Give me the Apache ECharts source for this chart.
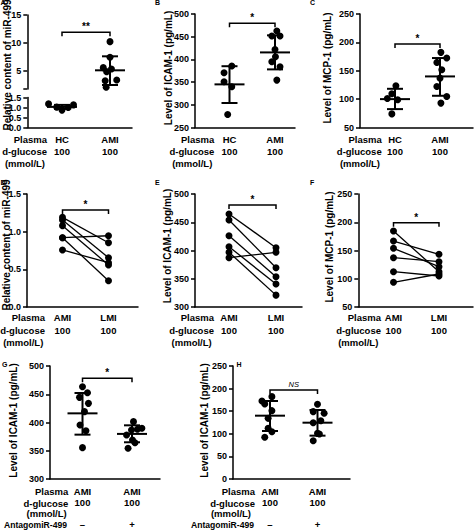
<!DOCTYPE html>
<html><head><meta charset="utf-8">
<script src="https://cdn.jsdelivr.net/npm/echarts@6/dist/echarts.min.js"></script>
<style>html,body{margin:0;padding:0;background:#fff}#c{width:474px;height:531px}</style>
</head><body><div id="c"></div>
<script>
// ---------------- DATA ----------------
// Panel A: relative content of miR-499 (HC vs AMI)
const catA = ['HC', 'AMI'];
const aHC = [1.18, 1.13, 1.02, 1.0, 0.87];
const aHCjit = [-0.28, 0.24, -0.11, 0.13, 0];
const aAMI = [10.24, 7.44, 5.6, 5.36, 4.88, 3.39, 3.27, 2.08];
const aAMIjit = [0, 0, -0.14, 0.03, -0.07, 0.14, -0.1, -0.08];
const aMean = [1.03, 5.12], aLo = [0.93, 2.5], aHi = [1.13, 7.62];
// Panel B: ICAM-1 (HC vs AMI)
const catB = ['HC', 'AMI'];
const bHC = [385.3, 370.6, 350.7, 339.7, 278.7];
const bHCjit = [0.05, -0.12, -0.12, 0.05, -0.04];
const bAMI = [462.5, 451.5, 451.5, 422, 406, 395, 384, 354.4];
const bAMIjit = [0.04, -0.07, 0.11, 0, 0.01, -0.07, 0.11, 0.04];
const bMean = [345, 415.4], bLo = [304, 378], bHi = [385, 453];
// Panel C: MCP-1 (HC vs AMI)
const catC = ['HC', 'AMI'];
const cHC = [123.5, 109.4, 101, 99, 74];
const cHCjit = [0.02, -0.07, -0.17, 0.06, -0.07];
const cAMI = [182.4, 172.4, 164.7, 151.8, 137, 122.4, 104.7, 93];
const cAMIjit = [0.02, 0.15, -0.07, 0.04, 0, -0.07, 0.15, 0.02];
const cMean = [100, 140], cLo = [82.4, 105.9], cHi = [118.2, 172.4];
// Panel D-F: paired AMI vs LMI
const catD = ['AMI', 'LMI'];
const dAMI = [1.19, 1.155, 1.08, 0.92, 0.92, 0.757];
const dLMI = [0.853, 0.654, 0.558, 0.946, 0.349, 0.588];
const eAMI = [464.6, 454, 426.2, 406.7, 396.8, 387.3];
const eLMI = [405, 369.6, 353.6, 340.7, 321, 396.8];
const fAMI = [184.5, 166.8, 153.9, 137.3, 112.5, 93.7];
const fLMI = [112.5, 143.3, 121.3, 130.2, 104.9, 108.4];
// Panel G-H: AMI without / with AntagomiR-499
const catG = ['AMI', 'AMI'];
const antago = ['\u2013', '+'];
const gCtl = [463.4, 452.8, 444.5, 433.9, 419.2, 395.6, 385.5, 355.5];
const gCtljit = [0, 0.1, -0.06, 0.12, 0.04, -0.05, 0.07, 0];
const gAnt = [401.5, 389.7, 388, 386.7, 377.9, 369, 364.3, 354.3];
const gAntjit = [0.03, 0.2, 0.11, -0.01, -0.11, 0.01, 0.06, -0.08];
const gMean = [416.2, 379.8], gLo = [378.5, 365], gHi = [452.2, 395];
const hCtl = [182.2, 172.6, 165.9, 151.2, 134.2, 112.1, 104.7, 92.2];
const hCtljit = [0.04, -0.17, -0.11, 0.04, -0.04, -0.04, 0.04, -0.11];
const hAnt = [165.2, 149, 145.3, 129, 124.6, 101, 99.6, 84.8];
const hAntjit = [0, -0.09, 0.14, 0.07, -0.09, 0, 0.04, -0.09];
const hMean = [140.1, 124.6], hLo = [106.2, 95.9], hHi = [172.6, 152.7];
const glucose = '100';
const rowNames = ['Plasma', 'd-glucose', '(mmol/L)', 'AntagomiR-499'];
// ---------------- BUILD ----------------
const FF = '"Liberation Sans", Arial, Helvetica, sans-serif';
const opt = {animation: false, backgroundColor: '#fff', grid: [], xAxis: [], yAxis: [], series: [], graphic: []};

function addGrid(x0, x1, yTop, yBot, c1, c2, xLab, y) {
  const s = c2 - c1;
  const gi = opt.grid.length;
  opt.grid.push({left: x0, top: yTop, width: x1 - x0, height: yBot - yTop, containLabel: false, outerBoundsMode: 'none'});
  opt.xAxis.push({
    type: 'value', gridIndex: gi, min: 1 - (c1 - x0) / s, max: 2 + (x1 - c2) / s,
    show: !!xLab, splitLine: {show: false}, axisTick: {show: false},
    axisLine: {show: true, onZero: false, lineStyle: {color: '#000', width: 1.5}},
    axisLabel: xLab ? {show: true, customValues: [1, 2], formatter: xLab.fmt, color: '#000', fontFamily: FF,
      fontSize: 9.5, fontWeight: 'bold', lineHeight: xLab.lh, margin: xLab.margin, align: 'center'} : {show: false}
  });
  const lab = {color: '#000', fontFamily: FF, fontSize: 9, fontWeight: 'bold', margin: 6};
  if (y.labFmt) lab.formatter = y.labFmt;
  if (y.labVals) lab.customValues = y.labVals;
  const tick = {show: true, length: 4, lineStyle: {color: '#000', width: 1.5}};
  if (y.tickVals) tick.customValues = y.tickVals;
  const ya = {type: 'value', gridIndex: gi, min: y.min, max: y.max, splitLine: {show: false},
    axisLine: {show: true, onZero: false, lineStyle: {color: '#000', width: 1.5}}, axisTick: tick, axisLabel: lab};
  if (y.interval) ya.interval = y.interval;
  opt.yAxis.push(ya);
  return gi;
}
function scatter(gi, grp, vals, jit) {
  opt.series.push({type: 'scatter', xAxisIndex: gi, yAxisIndex: gi, silent: true, symbol: 'circle', symbolSize: 7,
    itemStyle: {color: '#000', opacity: 1}, data: vals.map((v, i) => [grp + jit[i], v])});
}
function meanSd(gi, grp, m, lo, hi) {
  opt.series.push({type: 'custom', xAxisIndex: gi, yAxisIndex: gi, silent: true, z: 3,
    data: [[grp, m, lo, hi]],
    renderItem: function (p, api) {
      const pm = api.coord([api.value(0), api.value(1)]);
      const pl = api.coord([api.value(0), api.value(2)]);
      const ph = api.coord([api.value(0), api.value(3)]);
      const st = {stroke: '#000', lineWidth: 2};
      return {type: 'group', children: [
        {type: 'line', shape: {x1: pm[0] - 15, y1: pm[1], x2: pm[0] + 15, y2: pm[1]}, style: st},
        {type: 'line', shape: {x1: ph[0], y1: ph[1], x2: pl[0], y2: pl[1]}, style: st},
        {type: 'line', shape: {x1: ph[0] - 8, y1: ph[1], x2: ph[0] + 8, y2: ph[1]}, style: st},
        {type: 'line', shape: {x1: pl[0] - 8, y1: pl[1], x2: pl[0] + 8, y2: pl[1]}, style: st}
      ]};
    }});
}
function pairs(gi, a, b) {
  a.forEach((v, i) => {
    opt.series.push({type: 'line', xAxisIndex: gi, yAxisIndex: gi, silent: true, symbol: 'circle', symbolSize: 7,
      showSymbol: true, lineStyle: {color: '#000', width: 1.3}, itemStyle: {color: '#000', opacity: 1},
      data: [[1, v], [2, b[i]]]});
  });
}
function bracket(gi, yVal, txt, italic) {
  opt.series.push({type: 'custom', xAxisIndex: gi, yAxisIndex: gi, silent: true, z: 4,
    data: [[1, 2, yVal]],
    renderItem: function (p, api) {
      const a = api.coord([api.value(0), api.value(2)]);
      const b = api.coord([api.value(1), api.value(2)]);
      return {type: 'group', children: [
        {type: 'polyline', shape: {points: [[a[0], a[1] + 4], [a[0], a[1]], [b[0], b[1]], [b[0], b[1] + 4]]},
          style: {stroke: '#000', lineWidth: 1.5, fill: null}},
        {type: 'text', x: (a[0] + b[0]) / 2, y: a[1] - (italic ? 2 : 0.5),
          style: {text: txt, align: 'center', verticalAlign: 'bottom', fill: '#000', fontFamily: FF,
            fontSize: italic ? 7.5 : 10, fontWeight: italic ? 'normal' : 'bold', fontStyle: italic ? 'italic' : 'normal'}}
      ]};
    }});
}
function text(x, y, t, o) {
  opt.graphic.push({type: 'text', x: x, y: y, rotation: (o && o.rot) || 0, silent: true,
    style: {text: t, fill: '#000', fontFamily: FF, fontSize: (o && o.size) || 9.5, fontWeight: 'bold',
      align: (o && o.align) || 'right', verticalAlign: (o && o.va) || 'middle'}});
}
function rowLabels(right, ys, mmolRight, antRight) {
  text(right, ys[0], rowNames[0]);
  text(right, ys[1], rowNames[1]);
  text(mmolRight, ys[2], rowNames[2]);
  if (ys.length > 3) text(antRight, ys[3], rowNames[3], {size: 8.6});
}
const fmt2 = cats => v => (v === 1 ? cats[0] : cats[1]) + '\n' + glucose;
const fmt4 = cats => v => (v === 1 ? cats[0] : cats[1]) + '\n' + glucose + '\n\n' + (v === 1 ? antago[0] : antago[1]);
const dec1 = v => v.toFixed(1);
const row1 = {lh: 12.4, margin: 5.6}, row2 = {lh: 13.2, margin: 3.8}, row3 = {lh: 11.1, margin: 7};

// Panel A (broken axis -> two grids)
const aU = addGrid(27.3, 132, 15, 88.9, 62, 110, null, {min: 1.8, max: 15, tickVals: [1.8, 5, 10, 15], labVals: [5, 10, 15]});
const aL = addGrid(27.3, 132, 97.5, 127.5, 62, 110, Object.assign({fmt: fmt2(catA)}, row1), {min: 0, max: 1.5, interval: 0.5, labFmt: dec1});
scatter(aL, 1, aHC, aHCjit); meanSd(aL, 1, aMean[0], aLo[0], aHi[0]);
scatter(aU, 2, aAMI, aAMIjit); meanSd(aU, 2, aMean[1], aLo[1], aHi[1]);
bracket(aU, 11.9, '**');
// Panel B
const gB = addGrid(195, 295, 14, 127.5, 229.5, 275, Object.assign({fmt: fmt2(catB)}, row1), {min: 250, max: 500, interval: 50});
scatter(gB, 1, bHC, bHCjit); meanSd(gB, 1, bMean[0], bLo[0], bHi[0]);
scatter(gB, 2, bAMI, bAMIjit); meanSd(gB, 2, bMean[1], bLo[1], bHi[1]);
bracket(gB, 479.5, '*');
// Panel C
const gC = addGrid(360, 473, 14, 127.5, 395, 440, Object.assign({fmt: fmt2(catC)}, row1), {min: 50, max: 250, interval: 50});
scatter(gC, 1, cHC, cHCjit); meanSd(gC, 1, cMean[0], cLo[0], cHi[0]);
scatter(gC, 2, cAMI, cAMIjit); meanSd(gC, 2, cMean[1], cLo[1], cHi[1]);
bracket(gC, 197, '*');
// Panel D
const gD = addGrid(27, 138, 194, 307, 62.5, 108.5, Object.assign({fmt: fmt2(catD)}, row2), {min: 0, max: 1.5, interval: 0.5, labFmt: dec1});
pairs(gD, dAMI, dLMI); bracket(gD, 1.288, '*');
// Panel E
const gE = addGrid(195, 302, 194, 307, 229, 276, Object.assign({fmt: fmt2(catD)}, row2), {min: 300, max: 500, interval: 50});
pairs(gE, eAMI, eLMI); bracket(gE, 480.5, '*');
// Panel F
const gF = addGrid(358.3, 473, 194, 307, 393.5, 439, Object.assign({fmt: fmt2(catD)}, row2), {min: 50, max: 250, interval: 50});
pairs(gF, fAMI, fLMI); bracket(gF, 199.2, '*');
// Panel G
const gG = addGrid(50, 160, 366, 479, 82.5, 132, Object.assign({fmt: fmt4(catG)}, row3), {min: 300, max: 500, interval: 50});
scatter(gG, 1, gCtl, gCtljit); meanSd(gG, 1, gMean[0], gLo[0], gHi[0]);
scatter(gG, 2, gAnt, gAntjit); meanSd(gG, 2, gMean[1], gLo[1], gHi[1]);
bracket(gG, 478.2, '*');
// Panel H
const gH = addGrid(233, 350, 366, 479, 270, 317.5, Object.assign({fmt: fmt4(catG)}, row3), {min: 0, max: 250, interval: 50});
scatter(gH, 1, hCtl, hCtljit); meanSd(gH, 1, hMean[0], hLo[0], hHi[0]);
scatter(gH, 2, hAnt, hAntjit); meanSd(gH, 2, hMean[1], hLo[1], hHi[1]);
bracket(gH, 196.9, 'NS', true);

// Row labels
rowLabels(47, [139.3, 151.7, 163.3], 45);
rowLabels(214.3, [139.3, 151.7, 163.3], 212.3);
rowLabels(381.7, [139.3, 151.7, 163.3], 380);
rowLabels(45, [317.3, 330.7, 342.7], 43.3);
rowLabels(214, [317.3, 330.7, 342.7], 211.7);
rowLabels(381, [317.3, 330.7, 342.7], 378.3);
rowLabels(68.3, [491.7, 503.3, 513.3, 525], 66.7, 67);
rowLabels(255, [491.7, 503.3, 513.3, 525], 251, 254);

// Axis titles
const R = Math.PI / 2;
const tMir = 'Relative content of miR-499', tIcam = 'Level of ICAM-1 (pg/mL)', tMcp = 'Level of MCP-1 (pg/mL)';
text(7.5, 65, tMir, {rot: R, align: 'center', size: 10});
text(168, 68, tIcam, {rot: R, align: 'center', size: 10});
text(327.5, 68, tMcp, {rot: R, align: 'center', size: 10});
text(6, 245, tMir, {rot: R, align: 'center', size: 10});
text(167.5, 246, tIcam, {rot: R, align: 'center', size: 10});
text(329.5, 247, tMcp, {rot: R, align: 'center', size: 10});
text(13, 420.5, tIcam, {rot: R, align: 'center', size: 10});
text(204, 420.5, tIcam, {rot: R, align: 'center', size: 10});

// Panel letters
[['A', 0.5, -1.5], ['B', 155, -1.5], ['C', 310, -1.5], ['D', 0.5, 178.5], ['E', 155, 178.5], ['F', 310, 178.5],
 ['G', 2, 361], ['H', 236.5, 361]].forEach(l => text(l[1], l[2], l[0], {align: 'left', va: 'top', size: 7}));

const chart = echarts.init(document.getElementById('c'), null, {renderer: 'svg'});
chart.setOption(opt);
</script></body></html>
